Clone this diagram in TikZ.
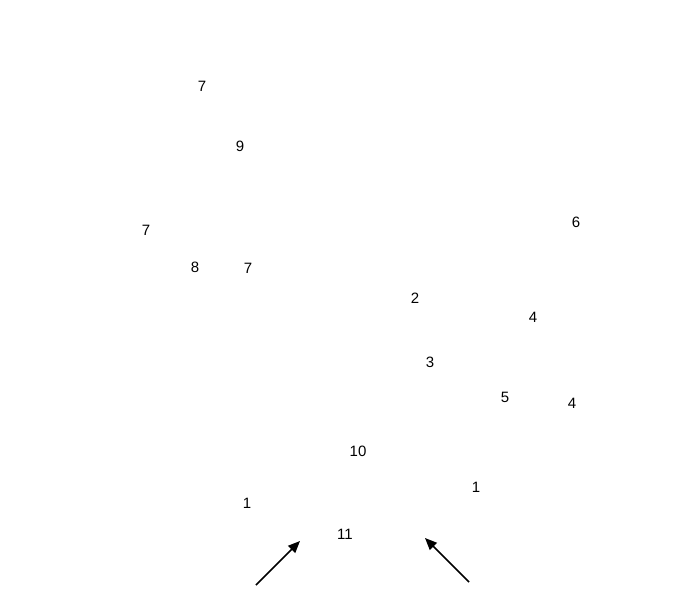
\documentclass[tikz,border=0pt]{standalone}
\usepackage{fontspec}
\setmainfont{Liberation Sans}
\usetikzlibrary{arrows.meta}
\begin{document}
\begin{tikzpicture}[x=1pt,y=-1pt,
  lab/.style={font=\fontsize{15}{18}\selectfont,inner sep=0pt},
  arr/.style={line width=1.5pt,-{Triangle[length=12pt,width=10pt]}}]
\useasboundingbox (0,0) rectangle (700,600);
\node[lab] (a1) at (202,86) {7};
\node[lab] (a2) at (240,146) {9};
\node[lab] (a3) at (146,230) {7};
\node[lab] (a4) at (195,267) {8};
\node[lab] (a5) at (248,268) {7};
\node[lab] (a6) at (576,222) {6};
\node[lab] (a7) at (415,298) {2};
\node[lab] (a8) at (533,317) {4};
\node[lab] (a9) at (430,362) {3};
\node[lab] (a10) at (505,397) {5};
\node[lab] (a11) at (572,403) {4};
\node[lab] (a12) at (358,451) {10};
\node[lab] (a13) at (476,487) {1};
\node[lab] (a14) at (247,503) {1};
\node[lab] (a15) at (345,534) {11};
\coordinate (s1) at (256,585);
\coordinate (e1) at (300,541);
\coordinate (s2) at (469,582);
\coordinate (e2) at (425,538);
\draw[arr] (s1) -- (e1);
\draw[arr] (s2) -- (e2);
\end{tikzpicture}
\end{document}
